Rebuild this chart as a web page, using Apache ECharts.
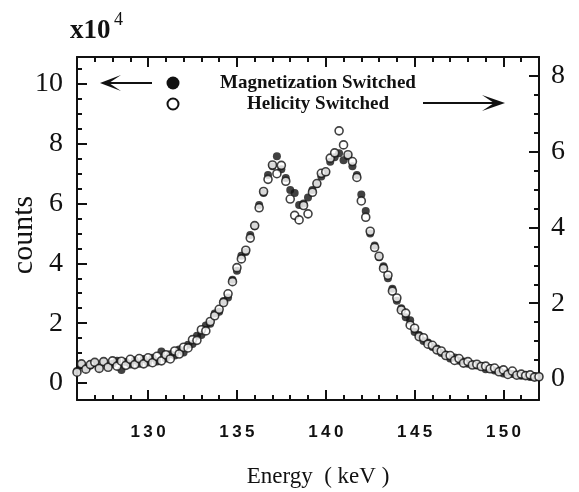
<!DOCTYPE html>
<html>
<head>
<meta charset="utf-8">
<script src="https://cdn.jsdelivr.net/npm/echarts@6/dist/echarts.min.js"></script>
<style>html,body{margin:0;padding:0;background:#fff;}#c{width:579px;height:492px;}</style>
</head>
<body>
<div id="c"></div>
<script>
// Energy (keV) sample positions
var energies = [
 126,126.25,126.5,126.75, 127,127.25,127.5,127.75, 128,128.25,128.5,128.75, 129,129.25,129.5,129.75,
 130,130.25,130.5,130.75, 131,131.25,131.5,131.75, 132,132.25,132.5,132.75, 133,133.25,133.5,133.75,
 134,134.25,134.5,134.75, 135,135.25,135.5,135.75, 136,136.25,136.5,136.75, 137,137.25,137.5,137.75,
 138,138.25,138.5,138.75, 139,139.25,139.5,139.75, 140,140.25,140.5,140.75, 141,141.25,141.5,141.75,
 142,142.25,142.5,142.75, 143,143.25,143.5,143.75, 144,144.25,144.5,144.75, 145,145.25,145.5,145.75,
 146,146.25,146.5,146.75, 147,147.25,147.5,147.75, 148,148.25,148.5,148.75, 149,149.25,149.5,149.75,
 150,150.25,150.5,150.75, 151,151.25,151.5,151.75, 152
];
// Magnetization Switched (filled, left axis, x10^4 counts)
var magnetization = [
 0.40,0.62,0.48,0.58, 0.66,0.50,0.70,0.56, 0.64,0.74,0.43,0.70, 0.62,0.76,0.64,0.80,
 0.68,0.84,0.72,1.05, 0.82,0.96,0.92,1.12, 1.02,1.28,1.30,1.58, 1.60,1.92,1.98,2.32,
 2.38,2.74,2.86,3.45, 3.75,4.25,4.38,4.95, 5.25,5.95,6.35,6.95, 7.25,7.58,7.15,6.85,
 6.45,6.35,5.95,6.00, 6.20,6.45,6.65,6.90, 7.05,7.40,7.55,7.68, 7.45,7.58,7.25,6.95,
 6.30,5.75,5.00,4.60, 4.20,3.90,3.50,3.15, 2.75,2.50,2.20,2.10, 1.70,1.60,1.40,1.35,
 1.20,1.15,1.00,0.95, 0.82,0.85,0.74,0.72, 0.64,0.62,0.58,0.57, 0.46,0.50,0.42,0.42,
 0.32,0.34,0.30,0.27, 0.24,0.26,0.20,0.23, 0.22
];
// Helicity Switched (open, right axis)
var helicity = [
 0.18,0.40,0.26,0.38, 0.44,0.28,0.46,0.31, 0.48,0.34,0.47,0.36, 0.52,0.38,0.54,0.40,
 0.56,0.43,0.60,0.48, 0.64,0.53,0.74,0.66, 0.84,0.82,1.04,1.02, 1.30,1.27,1.52,1.67,
 1.84,2.02,2.25,2.57, 2.94,3.17,3.40,3.72, 4.05,4.52,4.95,5.27, 5.65,5.42,5.64,5.22,
 4.75,4.32,4.20,4.58, 4.36,4.93,5.16,5.43, 5.47,5.83,5.97,6.55, 6.18,5.92,5.74,5.32,
 4.70,4.27,3.90,3.47, 3.24,2.92,2.74,2.32, 2.14,1.82,1.74,1.42, 1.34,1.12,1.09,0.92,
 0.89,0.77,0.74,0.62, 0.62,0.49,0.54,0.42, 0.46,0.37,0.39,0.33, 0.34,0.27,0.29,0.19,
 0.24,0.12,0.21,0.10, 0.13,0.09,0.11,0.05, 0.06
];
var xMajor = [130,135,140,145,150];
var xMinor = [127,128,129,131,132,133,134,136,137,138,139,141,142,143,144,146,147,148,149,151];
var leftMajor = [0,2,4,6,8,10];
var leftMinor = [0.5,1,1.5,2.5,3,3.5,4.5,5,5.5,6.5,7,7.5,8.5,9,9.5,10.5];
var rightMajor = [0,2,4,6,8];
var rightMinor = [0.5,1,1.5,2.5,3,3.5,4.5,5,5.5,6.5,7,7.5];

var X_MIN = 126, X_MAX = 152;
var L_MIN = -0.57, L_MAX = 10.9;
var R_MIN = -0.554, R_MAX = 8.50;

function pairs(xs, ys){ return xs.map(function(x,i){ return [x, ys[i]]; }); }

var ink = '#111';
var line = {show:true, onZero:false, lineStyle:{color:ink, width:2}};
function spaced(v){ return String(v).split('').join('\u2009'); }
function xAx(pos, ticks, len, showLine, labels){
  return {type:'value', min:X_MIN, max:X_MAX, position:pos,
    axisLine: showLine ? line : {show:false, onZero:false},
    axisTick:{show:true, inside:true, length:len, customValues:ticks, lineStyle:{color:ink, width:2}},
    axisLabel: labels ? {show:true, customValues:ticks, margin:24, color:ink, formatter:spaced,
      fontFamily:'Liberation Sans', fontWeight:'bold', fontSize:17} : {show:false},
    splitLine:{show:false}};
}
function yAx(pos, min, max, ticks, len, showLine, labels, margin){
  return {type:'value', min:min, max:max, position:pos,
    axisLine: showLine ? line : {show:false, onZero:false},
    axisTick:{show:true, inside:true, length:len, customValues:ticks, lineStyle:{color:ink, width:2}},
    axisLabel: labels ? {show:true, customValues:ticks, margin:margin, color:ink,
      fontFamily:'Liberation Serif', fontSize:28} : {show:false},
    splitLine:{show:false}};
}

var chart = echarts.init(document.getElementById('c'), null, {renderer:'canvas'});
chart.setOption({
  backgroundColor:'#fff',
  animation:false,
  grid:{left:77, right:40, top:57, bottom:92, containLabel:false},
  xAxis:[
    xAx('bottom', xMajor, 10, true, true),
    xAx('bottom', xMinor, 5, false, false),
    xAx('top', xMajor, 10, true, false),
    xAx('top', xMinor, 5, false, false)
  ],
  yAxis:[
    yAx('left', L_MIN, L_MAX, leftMajor, 10, true, true, 14),
    yAx('left', L_MIN, L_MAX, leftMinor, 5, false, false, 0),
    yAx('right', R_MIN, R_MAX, rightMajor, 10, true, true, 12),
    yAx('right', R_MIN, R_MAX, rightMinor, 5, false, false, 0)
  ],
  series:[
    {name:'Magnetization Switched', type:'scatter', xAxisIndex:0, yAxisIndex:0,
     symbol:'circle', symbolSize:8, itemStyle:{color:ink},
     data:pairs(energies, magnetization), z:2},
    {name:'Helicity Switched', type:'scatter', xAxisIndex:0, yAxisIndex:2,
     symbol:'circle', symbolSize:8, itemStyle:{color:'#fff', borderColor:ink, borderWidth:1.6},
     data:pairs(energies, helicity), z:3}
  ],
  graphic:[
    {type:'text', left:70, top:18, style:{text:'x10', font:'bold 27px "Liberation Serif"', fill:ink}},
    {type:'text', left:114, top:11, style:{text:'4', font:'18px "Liberation Serif"', fill:ink}},
    {type:'text', x:24, y:235, rotation:Math.PI/2,
     style:{text:'counts', font:'30px "Liberation Serif"', fill:ink, align:'center', verticalAlign:'middle'}},
    {type:'text', x:318, y:477,
     style:{text:'Energy  ( keV )', font:'23px "Liberation Serif"', fill:ink, align:'center', verticalAlign:'middle'}},
    {type:'circle', shape:{cx:173, cy:83, r:6.5}, style:{fill:ink}},
    {type:'circle', shape:{cx:173, cy:104, r:5.5}, style:{fill:'#fff', stroke:ink, lineWidth:2}},
    {type:'text', x:318, y:83,
     style:{text:'Magnetization Switched', font:'bold 19px "Liberation Serif"', fill:ink, align:'center', verticalAlign:'middle'}},
    {type:'text', x:318, y:104,
     style:{text:'Helicity Switched', font:'bold 19px "Liberation Serif"', fill:ink, align:'center', verticalAlign:'middle'}},
    {type:'line', shape:{x1:106, y1:83, x2:152, y2:83}, style:{stroke:ink, lineWidth:2}},
    {type:'polygon', shape:{points:[[100,83],[121,75],[109,83],[121,91]]}, style:{fill:ink}},
    {type:'line', shape:{x1:423, y1:103, x2:499, y2:103}, style:{stroke:ink, lineWidth:2}},
    {type:'polygon', shape:{points:[[505,103],[482,95],[494,103],[482,111]]}, style:{fill:ink}}
  ]
});
</script>
</body>
</html>
